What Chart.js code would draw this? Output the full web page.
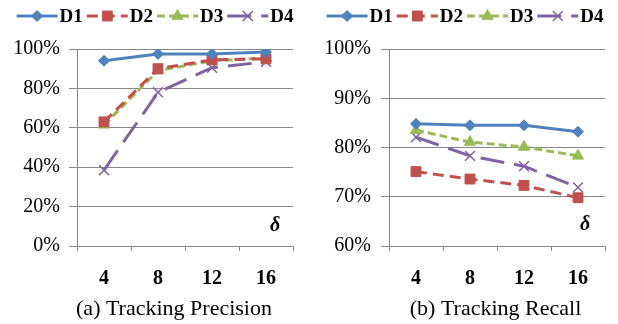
<!DOCTYPE html>
<html><head><meta charset="utf-8">
<script src="https://cdn.jsdelivr.net/npm/chart.js@4/dist/chart.umd.min.js"></script>
<style>
html,body{margin:0;padding:0;background:#fff;}
#wrap{position:relative;width:618px;height:324px;}
.c{position:absolute;top:0;}
</style></head><body>
<div id="wrap">
<canvas id="left" class="c" width="309" height="324" style="left:0"></canvas>
<canvas id="right" class="c" width="309" height="324" style="left:309px"></canvas>
</div>
<script>
const categories = ['4', '8', '12', '16'];
const seriesNames = ['D1', 'D2', 'D3', 'D4'];

const precisionD1 = [94, 97.5, 97.5, 98.5];
const precisionD2 = [63, 90, 94.5, 95];
const precisionD3 = [61.5, 89, 94, 95.5];
const precisionD4 = [38.5, 78, 90.5, 93.5];

const recallD1 = [84.8, 84.5, 84.5, 83.2];
const recallD2 = [75.1, 73.6, 72.3, 69.8];
const recallD3 = [83.5, 81.1, 80.1, 78.3];
const recallD4 = [82.1, 78.3, 76.2, 71.9];

const precisionTitle = '(a) Tracking Precision';
const recallTitle = '(b) Tracking Recall';
const axisSymbol = 'δ';

const colors = ['#4F81BD', '#C0504D', '#9BBB59', '#8064A2'];
const dashes = [[], [11, 6], [8, 4], [24, 10]];
const pointStyles = ['rectRot', 'rect', 'triangle', 'crossRot'];
const pointRadii = [5.5, 7, 6.5, 7];
const FONT = "'Liberation Serif', 'Times New Roman', serif";
const GRID = '#878787';

function makeDatasets(arrs) {
  return arrs.map((data, i) => ({
    label: seriesNames[i],
    data: data,
    borderColor: colors[i],
    backgroundColor: colors[i],
    pointBackgroundColor: colors[i],
    pointBorderColor: colors[i],
    pointStyle: pointStyles[i],
    pointRadius: pointRadii[i],
    pointBorderWidth: i === 3 ? 1.5 : 1,
    borderWidth: 3,
    borderDash: dashes[i],
    tension: 0,
    fill: false
  }));
}

const decorPlugin = {
  id: 'decor',
  afterDraw(chart, args, opts) {
    const ctx = chart.ctx;
    ctx.save();
    ctx.font = 'bold 19px ' + FONT;
    const lineLen = 41, gap = 2, itemGap = 4;
    const items = chart.data.datasets;
    const widths = items.map(d => ctx.measureText(d.label).width);
    let total = 0;
    widths.forEach(w => total += lineLen + gap + w);
    total += itemGap * (items.length - 1);
    let x = opts.legendCenter - total / 2;
    const y = opts.legendY;
    items.forEach((ds, i) => {
      ctx.strokeStyle = ds.borderColor;
      ctx.lineWidth = 3;
      ctx.setLineDash(ds.borderDash || []);
      ctx.beginPath();
      ctx.moveTo(x, y);
      ctx.lineTo(x + lineLen, y);
      ctx.stroke();
      ctx.setLineDash([]);
      ctx.fillStyle = ds.borderColor;
      ctx.strokeStyle = ds.borderColor;
      ctx.lineWidth = ds.pointBorderWidth;
      Chart.helpers.drawPoint(ctx, {pointStyle: ds.pointStyle, radius: ds.pointRadius, borderWidth: ds.pointBorderWidth, rotation: 0}, x + lineLen / 2, y);
      ctx.fillStyle = '#000';
      ctx.textBaseline = 'middle';
      ctx.textAlign = 'left';
      ctx.font = 'bold 19px ' + FONT;
      ctx.fillText(ds.label, x + lineLen + gap, y + 1);
      x += lineLen + gap + widths[i] + itemGap;
    });
    // title
    ctx.font = '22px ' + FONT;
    ctx.fillStyle = '#000';
    ctx.textAlign = 'center';
    ctx.textBaseline = 'middle';
    ctx.fillText(opts.title, opts.titleX, opts.titleY);
    // delta
    const ca = chart.chartArea;
    ctx.font = 'bold italic 20px ' + FONT;
    ctx.fillText(axisSymbol, ca.right + opts.deltaDx, ca.bottom + opts.deltaDy);
    ctx.restore();
  }
};

function makeChart(id, datasets, yMin, yMax, step, yWidth, yPad, padRight, decor) {
  return new Chart(document.getElementById(id), {
    type: 'line',
    data: {labels: categories, datasets: datasets},
    options: {
      responsive: false,
      animation: false,
      devicePixelRatio: 1,
      layout: {padding: {top: 49, right: padRight, left: 0, bottom: 0}},
      plugins: {
        legend: {display: false},
        tooltip: {enabled: false},
        title: {display: false},
        decor: decor
      },
      scales: {
        x: {
          type: 'category',
          offset: true,
          grid: {offset: true, drawOnChartArea: false, drawTicks: true, tickLength: 5, color: GRID},
          border: {display: true, color: GRID, width: 1},
          ticks: {font: {family: FONT, size: 20, weight: 'bold'}, color: '#000', padding: 16, maxRotation: 0, autoSkip: false},
          afterFit(s) { s.height = 78; }
        },
        y: {
          min: yMin,
          max: yMax,
          ticks: {stepSize: step, callback: v => v + '%', font: {family: FONT, size: 20}, color: '#000', padding: yPad},
          grid: {color: GRID, tickLength: 8},
          border: {display: true, color: GRID, width: 1},
          afterFit(s) { s.width = yWidth; }
        }
      }
    },
    plugins: [decorPlugin]
  });
}

makeChart('left', makeDatasets([precisionD1, precisionD2, precisionD3, precisionD4]), 0, 100, 20, 77, 9, 16,
  {legendCenter: 155, legendY: 16, title: precisionTitle, titleX: 174, titleY: 309, deltaDx: -18, deltaDy: -20});
makeChart('right', makeDatasets([recallD1, recallD2, recallD3, recallD4]), 60, 100, 10, 80, 10, 13,
  {legendCenter: 156, legendY: 16, title: recallTitle, titleX: 186.5, titleY: 309, deltaDx: -20, deltaDy: -21});
</script>
</body></html>
